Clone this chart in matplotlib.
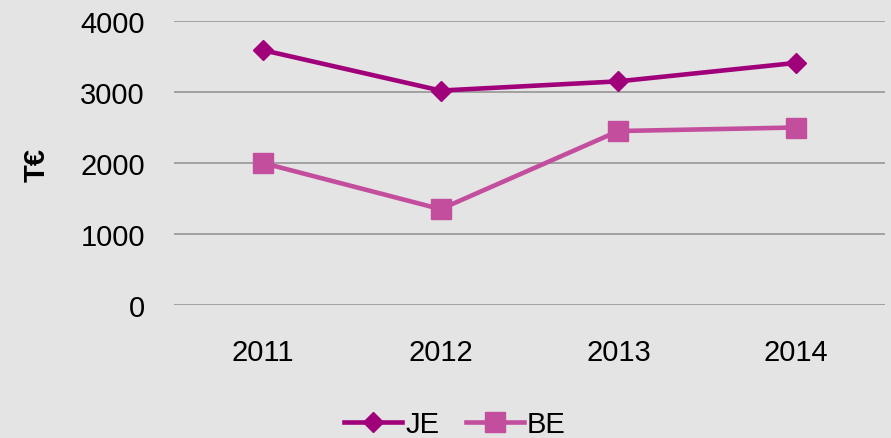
import matplotlib
matplotlib.use("Agg")
import matplotlib.pyplot as plt

# data
years = ["2011", "2012", "2013", "2014"]
je = [3590, 3020, 3150, 3410]
be = [2000, 1350, 2450, 2500]
yticks = [0, 1000, 2000, 3000, 4000]

plt.rcParams["font.family"] = ["Liberation Sans", "DejaVu Sans"]

bg = "#e4e4e4"
fig = plt.figure(figsize=(8.91, 4.39), dpi=100, facecolor=bg)
ax = fig.add_axes([174 / 891, 1 - 306 / 439, 711 / 891, 284 / 439])
ax.set_facecolor(bg)

x = range(len(years))
ax.plot(x, je, color="#a0007a", lw=3.3, marker="D", ms=10, label="JE", zorder=3)
ax.plot(x, be, color="#c34e9e", lw=3.3, marker="s", ms=14, label="BE", zorder=3)

ax.set_xlim(-0.5, len(years) - 0.5)
ax.set_ylim(0, 4000)
ax.set_yticks(yticks)
ax.set_yticklabels([str(v) for v in yticks])
ax.set_xticks(list(x))
ax.set_xticklabels(years)
for v in yticks:
    ax.axhline(v, color="#8e8e8e", lw=1.1, zorder=1)

for s in ax.spines.values():
    s.set_visible(False)
ax.tick_params(axis="both", length=0, labelsize=21)
ax.tick_params(axis="y", pad=21)
ax.tick_params(axis="x", pad=24)

fig.text(37 / 891, 1 - 165 / 439, "T€", rotation=90, fontsize=21,
         fontweight="bold", ha="center", va="center")

fig.legend(loc="center", bbox_to_anchor=(455 / 891, 1 - 425 / 439), ncol=2,
           frameon=False, fontsize=21, handlelength=2.0, handletextpad=0.1,
           columnspacing=0.9, borderaxespad=0)

fig.savefig("out.png", dpi=100, facecolor=bg)
